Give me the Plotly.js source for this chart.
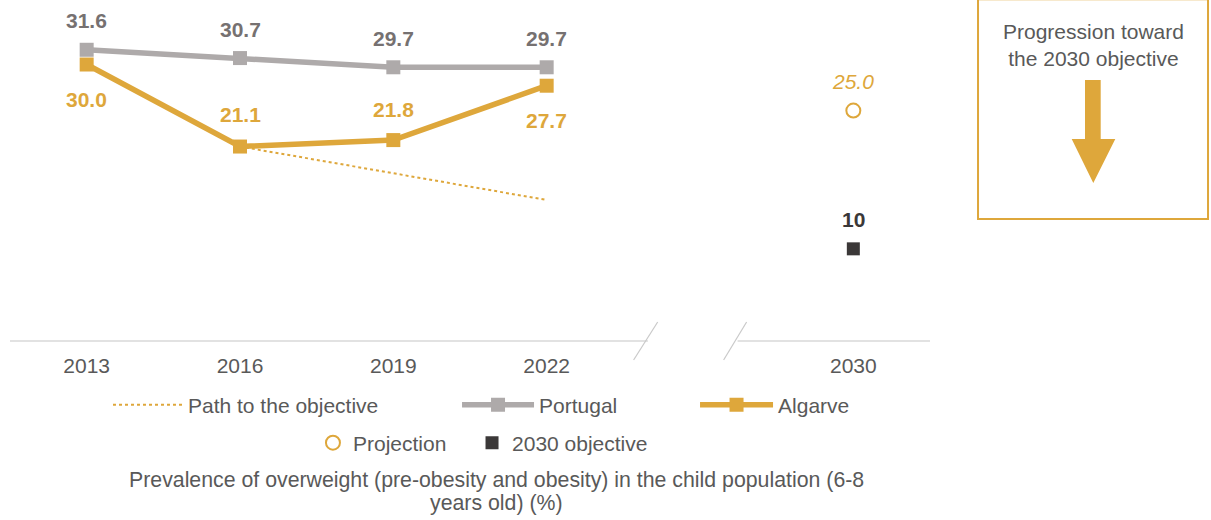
<!DOCTYPE html>
<html>
<head>
<meta charset="utf-8">
<script src="https://cdn.plot.ly/plotly-3.0.1.min.js"></script>
<style>
  html, body { margin: 0; padding: 0; background: #ffffff; }
  #chart { width: 1211px; height: 520px; }
</style>
</head>
<body>
<div id="chart"></div>
<script>
// ---------- data ----------
const axisCategories = ['2013', '2016', '2019', '2022', ' ', '2030'];
const years = ['2013', '2016', '2019', '2022'];
const portugal = [31.6, 30.7, 29.7, 29.7];
const algarve = [30.0, 21.1, 21.8, 27.7];
const pathYears = ['2016', '2019', '2022'];
const pathValues = [21.1, 18.2, 15.3];
const targetYear = ['2030'];
const projection = [25.0];
const objective = [10];
const seriesNames = ['Path to the objective', 'Portugal', 'Algarve', 'Projection', '2030 objective'];
const chartTitle = ['Prevalence of overweight (pre-obesity and obesity) in the child population (6-8', 'years old) (%)'];
const boxText = 'Progression toward<br>the 2030 objective';

// ---------- styles ----------
const ORANGE = '#DEA73B';
const GRAY = '#AEAAAA';
const GRAY_LABEL = '#767171';
const DARK = '#3B3838';
const TEXT = '#595959';
const FONT = 'Liberation Sans, Arial, sans-serif';

const traces = [
  {
    x: pathYears, y: pathValues, name: seriesNames[0], type: 'scatter', mode: 'lines',
    line: { color: ORANGE, width: 2, dash: 'dot' }, legend: 'legend', hoverinfo: 'skip'
  },
  {
    x: years, y: algarve, name: seriesNames[2], type: 'scatter', mode: 'lines+markers',
    line: { color: ORANGE, width: 5.5 }, marker: { symbol: 'square', size: 14, color: ORANGE },
    legend: 'legend3'
  },
  {
    x: years, y: portugal, name: seriesNames[1], type: 'scatter', mode: 'lines+markers',
    line: { color: GRAY, width: 5.5 }, marker: { symbol: 'square', size: 14, color: GRAY },
    legend: 'legend2'
  },
  {
    x: targetYear, y: projection, name: seriesNames[3], type: 'scatter', mode: 'markers',
    marker: { symbol: 'circle-open', size: 14, color: ORANGE, line: { width: 2, color: ORANGE } },
    legend: 'legend4'
  },
  {
    x: targetYear, y: objective, name: seriesNames[4], type: 'scatter', mode: 'markers',
    marker: { symbol: 'square', size: 13, color: DARK },
    legend: 'legend5'
  }
];

// ---------- value labels ----------
const annotations = [];
function addLabel(cat, y, txt, shift, color, italic) {
  const inner = italic ? '<i>' + txt + '</i>' : '<b>' + txt + '</b>';
  annotations.push({
    x: axisCategories.indexOf(cat), y: y, xref: 'x', yref: 'y', showarrow: false, yshift: shift,
    xanchor: 'center', yanchor: 'middle',
    text: inner,
    font: { family: FONT, size: 21, color: color }
  });
}
portugal.forEach((v, i) => addLabel(years[i], v, v.toFixed(1), 29, GRAY_LABEL, false));
const algarveShift = [-35, 32, 31, -35];
algarve.forEach((v, i) => addLabel(years[i], v, v.toFixed(1), algarveShift[i], ORANGE, false));
projection.forEach((v, i) => addLabel(targetYear[i], v, v.toFixed(1), 29, ORANGE, true));
objective.forEach((v, i) => addLabel(targetYear[i], v, String(v), 29, DARK, false));

// bottom title
annotations.push({
  xref: 'paper', yref: 'paper', x: 0.5293, y: -0.4076, showarrow: false,
  text: chartTitle[0], font: { family: FONT, size: 21.3, color: TEXT }, xanchor: 'center', yanchor: 'middle'
});
annotations.push({
  xref: 'paper', yref: 'paper', x: 0.5293, y: -0.4751, showarrow: false,
  text: chartTitle[1], font: { family: FONT, size: 21.3, color: TEXT }, xanchor: 'center', yanchor: 'middle'
});
// box text
annotations.push({
  xref: 'paper', yref: 'paper', x: 1.1775, y: 0.868, showarrow: false,
  text: boxText, font: { family: FONT, size: 21, color: TEXT }, xanchor: 'center', yanchor: 'middle'
});

// ---------- decorations ----------
const AXIS = '#D9D9D9';
const shapes = [
  { type: 'line', xref: 'x', yref: 'paper', x0: -0.5, x1: 3.66, y0: 0, y1: 0, line: { color: AXIS, width: 1.5 } },
  { type: 'line', xref: 'x', yref: 'paper', x0: 4.245, x1: 5.5, y0: 0, y1: 0, line: { color: AXIS, width: 1.5 } },
  { type: 'line', xref: 'x', yref: 'paper', x0: 3.567, x1: 3.724, y0: -0.0557, y1: 0.0557, line: { color: '#C9C9C9', width: 1.2 } },
  { type: 'line', xref: 'x', yref: 'paper', x0: 4.154, x1: 4.304, y0: -0.0557, y1: 0.0557, line: { color: '#C9C9C9', width: 1.2 } },
  { type: 'rect', xref: 'paper', yref: 'paper', x0: 1.0522, x1: 1.3022, y0: 0.3578, y1: 1.002,
    line: { color: ORANGE, width: 2 }, fillcolor: 'rgba(0,0,0,0)' },
  { type: 'path', xref: 'paper', yref: 'paper',
    path: 'M 1.16848 0.76540 L 1.18554 0.76540 L 1.18554 0.59238 L 1.20141 0.59238 L 1.17750 0.46334 L 1.15402 0.59238 L 1.16848 0.59238 Z',
    line: { width: 0 }, fillcolor: ORANGE }
];

const legendFont = { family: FONT, size: 21, color: TEXT };
function legendAt(x, y, w) {
  return { x: x, y: y, xanchor: 'left', yanchor: 'middle', orientation: 'h',
    bgcolor: 'rgba(0,0,0,0)', borderwidth: 0, font: legendFont, itemwidth: w };
}

const layout = {
  width: 1211, height: 520,
  margin: { l: 10, r: 281, t: 0, b: 179 },
  paper_bgcolor: '#ffffff', plot_bgcolor: '#ffffff',
  showlegend: true,
  xaxis: {
    type: 'category', categoryorder: 'array', categoryarray: axisCategories,
    range: [-0.5, 5.5], showgrid: false, zeroline: false, showline: false,
    ticks: '', ticklabelstandoff: 10,
    tickfont: { family: FONT, size: 21, color: TEXT }, fixedrange: true
  },
  yaxis: {
    range: [0, 37], visible: false, showgrid: false, zeroline: false, fixedrange: true
  },
  legend: legendAt(0.1065, -0.1877, 70),
  legend2: legendAt(0.4859, -0.1877, 72),
  legend3: legendAt(0.7446, -0.1877, 73),
  legend4: legendAt(0.3293, -0.2991, 30),
  legend5: legendAt(0.5022, -0.2991, 30),
  annotations: annotations,
  shapes: shapes
};

Plotly.newPlot('chart', traces, layout, { displayModeBar: false, staticPlot: true });
</script>
</body>
</html>
